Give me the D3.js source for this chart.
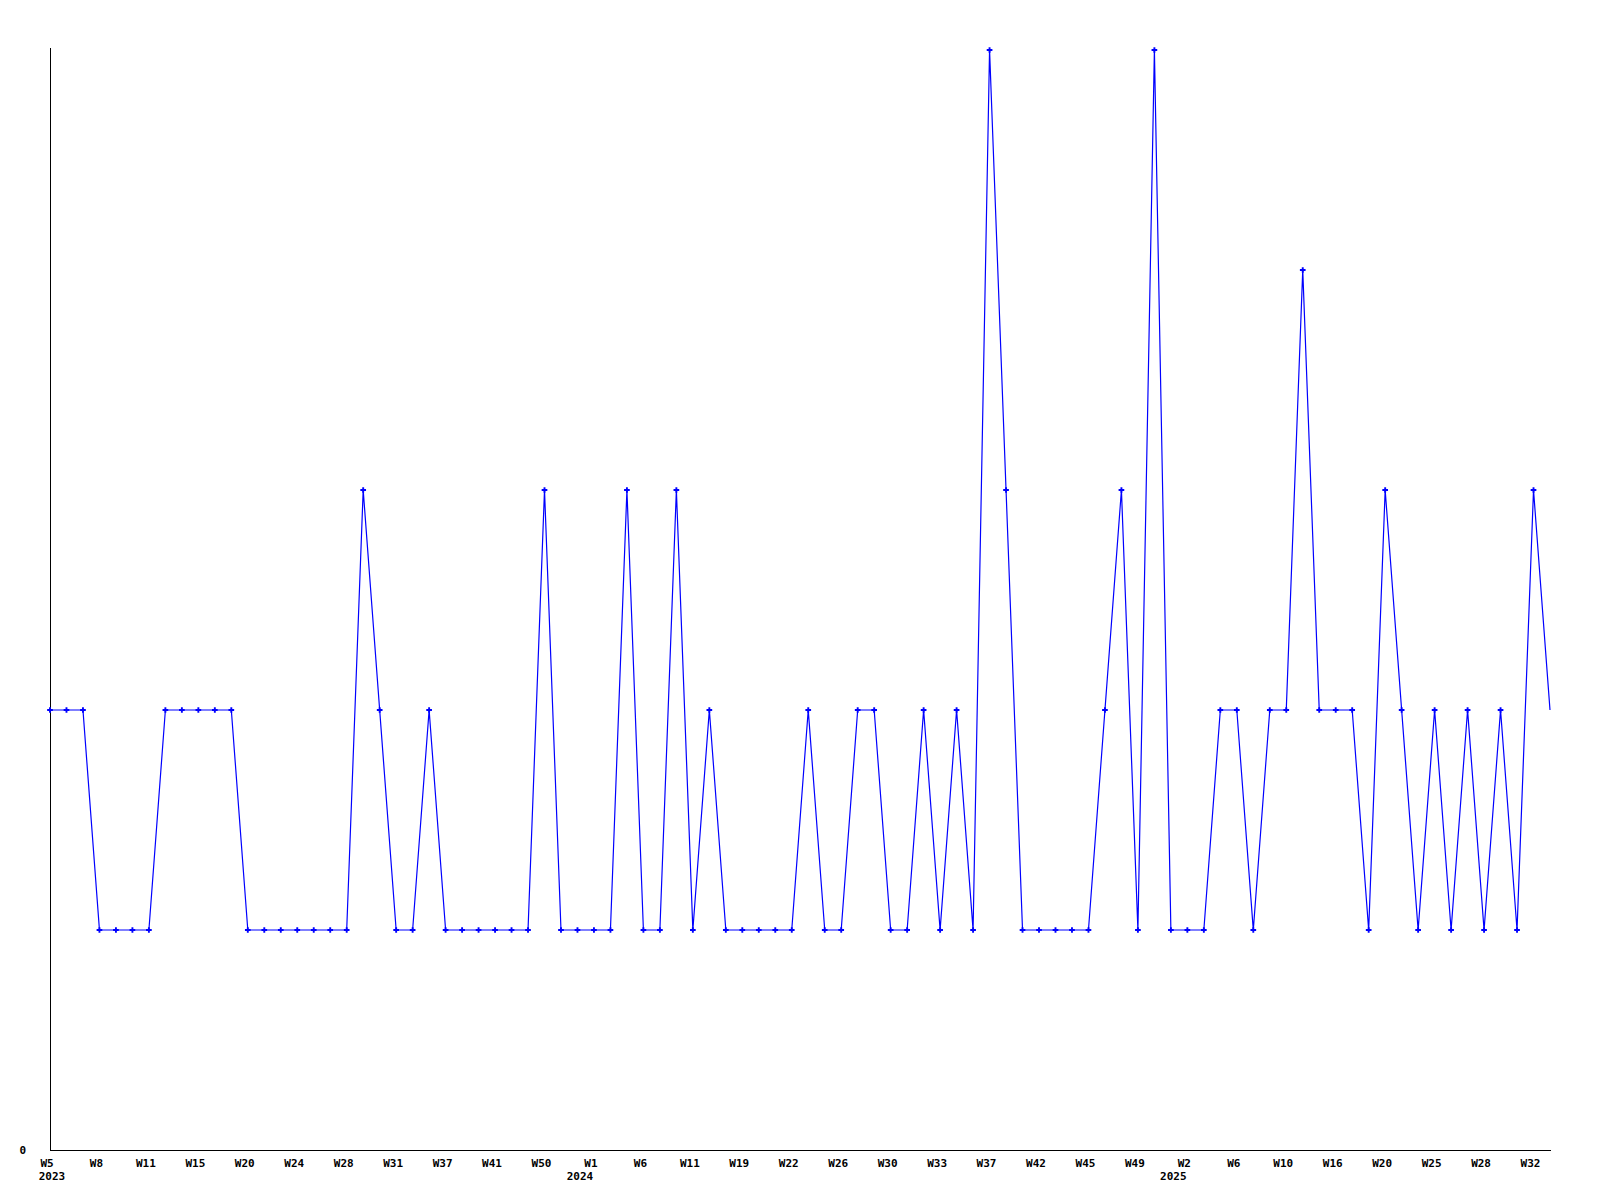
<!DOCTYPE html>
<html>
<head>
<meta charset="utf-8">
<script src="https://cdn.jsdelivr.net/npm/d3@7/dist/d3.min.js"></script>
<style>
  html, body { margin: 0; padding: 0; background: #fff; }
  svg { display: block; }
  text { font-family: "DejaVu Sans Mono", "Liberation Mono", monospace; font-weight: bold; font-size: 11px; fill: #000; }
</style>
</head>
<body>
<script>
// Weekly values (one per plotted week, in order)
const values = [
  2,2,2,1,1,1,1,2,2,2,2,2,1,1,1,1,1,1,1,3,
  2,1,1,2,1,1,1,1,1,1,3,1,1,1,1,3,1,1,3,1,
  2,1,1,1,1,1,2,1,1,2,2,1,1,2,1,2,1,5,3,1,
  1,1,1,1,2,3,1,5,1,1,1,2,2,1,2,2,4,2,2,2,
  1,3,2,1,2,1,2,1,2,1,3,2
];
// Tick labels, shown every 3rd plotted week
const tickLabels = [
  "W5","W8","W11","W15","W20","W24","W28","W31","W37","W41","W50",
  "W1","W6","W11","W19","W22","W26","W30","W33","W37","W42","W45","W49",
  "W2","W6","W10","W16","W20","W25","W28","W32"
];
const tickEvery = 3;
const yearLabels = ["2023","2024","2025"];
const yearTickIndex = [0, 11, 23]; // index into tickLabels where each year starts
const yTicks = [0];

const W = 1600, H = 1200;
const svg = d3.select("body").append("svg").attr("width", W).attr("height", H);

const idx = d3.range(values.length);
const x = d3.scalePoint().domain(idx).range([50, 1550]);
const y = d3.scaleLinear().domain([0, 5]).range([1150, 50]);

// axes
svg.append("line").attr("x1", 50.5).attr("x2", 50.5).attr("y1", 48).attr("y2", 1151)
  .attr("stroke", "#000").attr("stroke-width", 1);
svg.append("line").attr("x1", 50).attr("x2", 1551).attr("y1", 1150.5).attr("y2", 1150.5)
  .attr("stroke", "#000").attr("stroke-width", 1);

svg.selectAll("text.ytick").data(yTicks).join("text").attr("class", "ytick")
  .attr("x", 26).attr("y", d => y(d) + 4).attr("text-anchor", "end").text(d => d);

const tickIdx = tickLabels.map((l, i) => i * tickEvery);
svg.selectAll("text.xtick").data(tickLabels).join("text").attr("class", "xtick")
  .attr("x", (d, i) => x(tickIdx[i]) - 3)
  .attr("y", 1167)
  .attr("text-anchor", "middle")
  .text(d => d);

svg.selectAll("text.year").data(yearLabels).join("text").attr("class", "year")
  .attr("x", (d, i) => Math.max(x(tickIdx[yearTickIndex[i]]) - 14, 52))
  .attr("y", 1180)
  .attr("text-anchor", "middle")
  .text(d => d);

// line
const line = d3.line().x((d, i) => x(i)).y(d => y(d));
svg.append("path").datum(values).attr("d", line)
  .attr("fill", "none").attr("stroke", "#0000ff").attr("stroke-width", 1.2);

// markers (last point has none)
const sym = d3.symbol().type(d3.symbolCross).size(18);
svg.selectAll("path.mk").data(values.slice(0, values.length - 1)).join("path").attr("class", "mk")
  .attr("transform", (d, i) => `translate(${x(i)},${y(d)})`)
  .attr("d", sym).attr("fill", "#0000ff");
</script>
</body>
</html>
